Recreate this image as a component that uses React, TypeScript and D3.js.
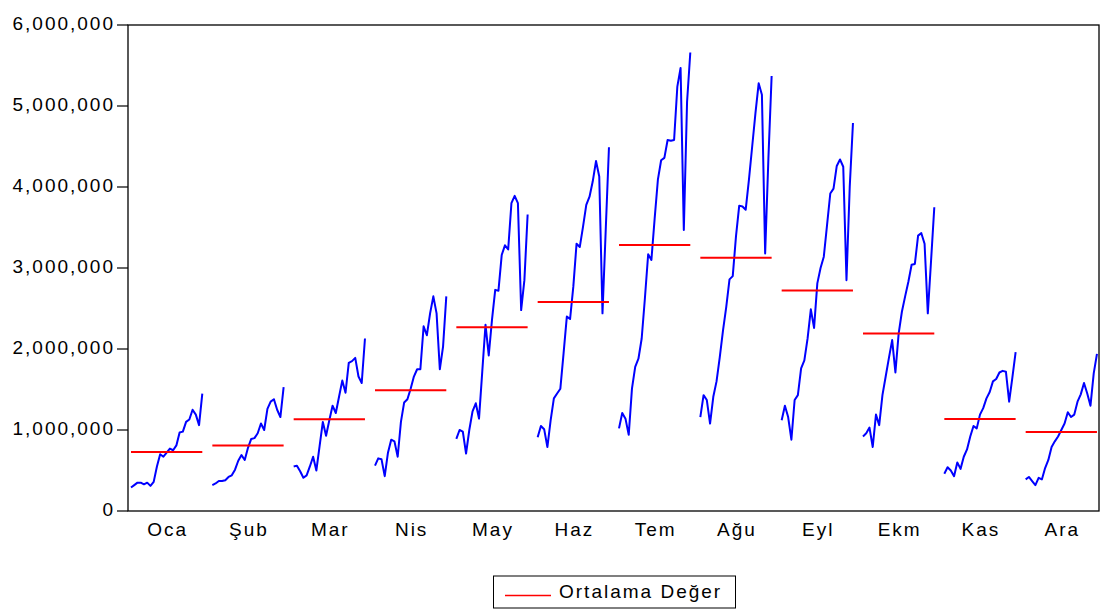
import { useMemo } from 'react'
import * as d3 from 'd3'

// monthly values per year (1996 - 2018), one array per month
const years = [1996, 1997, 1998, 1999, 2000, 2001, 2002, 2003, 2004, 2005, 2006, 2007,
  2008, 2009, 2010, 2011, 2012, 2013, 2014, 2015, 2016, 2017, 2018]

const oca = [290, 320, 350, 350, 330, 350, 310, 360, 550, 700, 670, 720, 770, 750, 810, 970, 980, 1100, 1130, 1250, 1190, 1060, 1450]
const sub = [320, 340, 370, 370, 380, 420, 440, 510, 620, 690, 630, 780, 890, 900, 960, 1080, 1000, 1260, 1350, 1380, 1250, 1160, 1530]
const mar = [550, 560, 490, 410, 440, 550, 670, 500, 800, 1100, 930, 1120, 1300, 1210, 1410, 1610, 1460, 1830, 1850, 1890, 1660, 1580, 2130]
const nis = [560, 650, 640, 430, 720, 880, 860, 670, 1100, 1340, 1380, 1510, 1660, 1750, 1750, 2280, 2170, 2440, 2650, 2440, 1750, 2030, 2650]
const may = [890, 1000, 980, 710, 1000, 1230, 1330, 1140, 1720, 2300, 1920, 2360, 2730, 2720, 3160, 3280, 3230, 3800, 3890, 3800, 2480, 2850, 3660]
const haz = [910, 1050, 1010, 790, 1120, 1390, 1450, 1510, 1950, 2400, 2370, 2770, 3300, 3260, 3510, 3780, 3880, 4070, 4320, 4130, 2440, 3470, 4490]
const tem = [1020, 1210, 1140, 940, 1510, 1780, 1880, 2130, 2630, 3170, 3100, 3610, 4090, 4330, 4360, 4580, 4570, 4580, 5240, 5470, 3470, 5050, 5660]
const agu = [1160, 1430, 1370, 1080, 1410, 1600, 1900, 2230, 2520, 2860, 2900, 3390, 3770, 3760, 3720, 4090, 4500, 4910, 5280, 5140, 3180, 4350, 5370]
const eyl = [1120, 1300, 1160, 880, 1370, 1430, 1760, 1860, 2130, 2490, 2260, 2810, 3000, 3140, 3530, 3920, 3980, 4260, 4340, 4250, 2850, 4000, 4790]
const ekm = [920, 960, 1030, 790, 1190, 1060, 1430, 1660, 1890, 2110, 1710, 2190, 2460, 2650, 2830, 3040, 3050, 3400, 3430, 3300, 2440, 3090, 3750]
const kas = [460, 540, 500, 430, 600, 520, 670, 760, 920, 1050, 1020, 1190, 1270, 1390, 1470, 1600, 1630, 1710, 1730, 1720, 1350, 1650, 1960]
const ara = [390, 420, 370, 320, 410, 390, 530, 630, 790, 860, 920, 1000, 1080, 1220, 1160, 1190, 1350, 1440, 1580, 1450, 1300, 1700, 1940]

const months = ['Oca', 'Şub', 'Mar', 'Nis', 'May', 'Haz', 'Tem', 'Ağu', 'Eyl', 'Ekm', 'Kas', 'Ara']
const monthValues = [oca, sub, mar, nis, may, haz, tem, agu, eyl, ekm, kas, ara]
const yTicks = [0, 1000000, 2000000, 3000000, 4000000, 5000000, 6000000]
const legendLabel = 'Ortalama Değer'

const W = 1101
const H = 611
const left = 128
const top = 25
const bottom = 511
const right = 1099
const font = '"Liberation Sans", Arial, sans-serif'

export default function App() {
  const y = d3.scaleLinear().domain([0, 6000000]).range([bottom, top])
  const x0 = d3.scaleBand().domain(months).range([left, left + 976])
  const x1 = d3.scalePoint().domain(years.map(String)).range([3, 74.3])

  const series = useMemo(() => months.map((m, i) => {
    const vals = monthValues[i].map((v) => v * 1000)
    const line = d3.line<number>()
      .x((_, j) => (x0(m) ?? 0) + (x1(String(years[j])) ?? 0))
      .y((v) => y(v))
    return { m, path: line(vals) ?? '', mean: d3.mean(vals) ?? 0 }
  }), [])

  const fmt = d3.format(',')

  return (
    <svg width={W} height={H} style={{ position: 'absolute', left: 0, top: 0, background: '#fff' }}
      fontFamily={font}>
      <rect width={W} height={H} fill="#fff" />
      {/* y axis ticks */}
      {yTicks.map((t) => (
        <g key={t}>
          <line x1={117} x2={left} y1={y(t)} y2={y(t)} stroke="#000" strokeWidth={1.2} />
          <text x={115} y={y(t) + 4.5} textAnchor="end" fontSize={19} letterSpacing={2} fill="#000">
            {fmt(t)}
          </text>
        </g>
      ))}
      {/* series + means */}
      {series.map((s) => {
        const xs = (x0(s.m) ?? 0) + 3
        const xe = (x0(s.m) ?? 0) + 74.3
        return (
          <g key={s.m}>
            <path d={s.path} fill="none" stroke="#0000ff" strokeWidth={2} strokeLinejoin="round" />
            <line x1={xs} x2={xe} y1={y(s.mean)} y2={y(s.mean)} stroke="#ff0000" strokeWidth={2} />
            <text x={(xs + xe) / 2 + 1} y={536} textAnchor="middle" fontSize={19} letterSpacing={2} fill="#000">
              {s.m}
            </text>
          </g>
        )
      })}
      {/* frame */}
      <rect x={left} y={top} width={right - left} height={bottom - top} fill="none" stroke="#000" strokeWidth={1.3} />
      {/* legend */}
      <rect x={493.5} y={576} width={242} height={32} fill="#fff" stroke="#000" strokeWidth={1} />
      <line x1={505} x2={551} y1={595.5} y2={595.5} stroke="#ff0000" strokeWidth={1.5} />
      <text x={559} y={597.5} fontSize={19} letterSpacing={2} fill="#000">{legendLabel}</text>
    </svg>
  )
}
